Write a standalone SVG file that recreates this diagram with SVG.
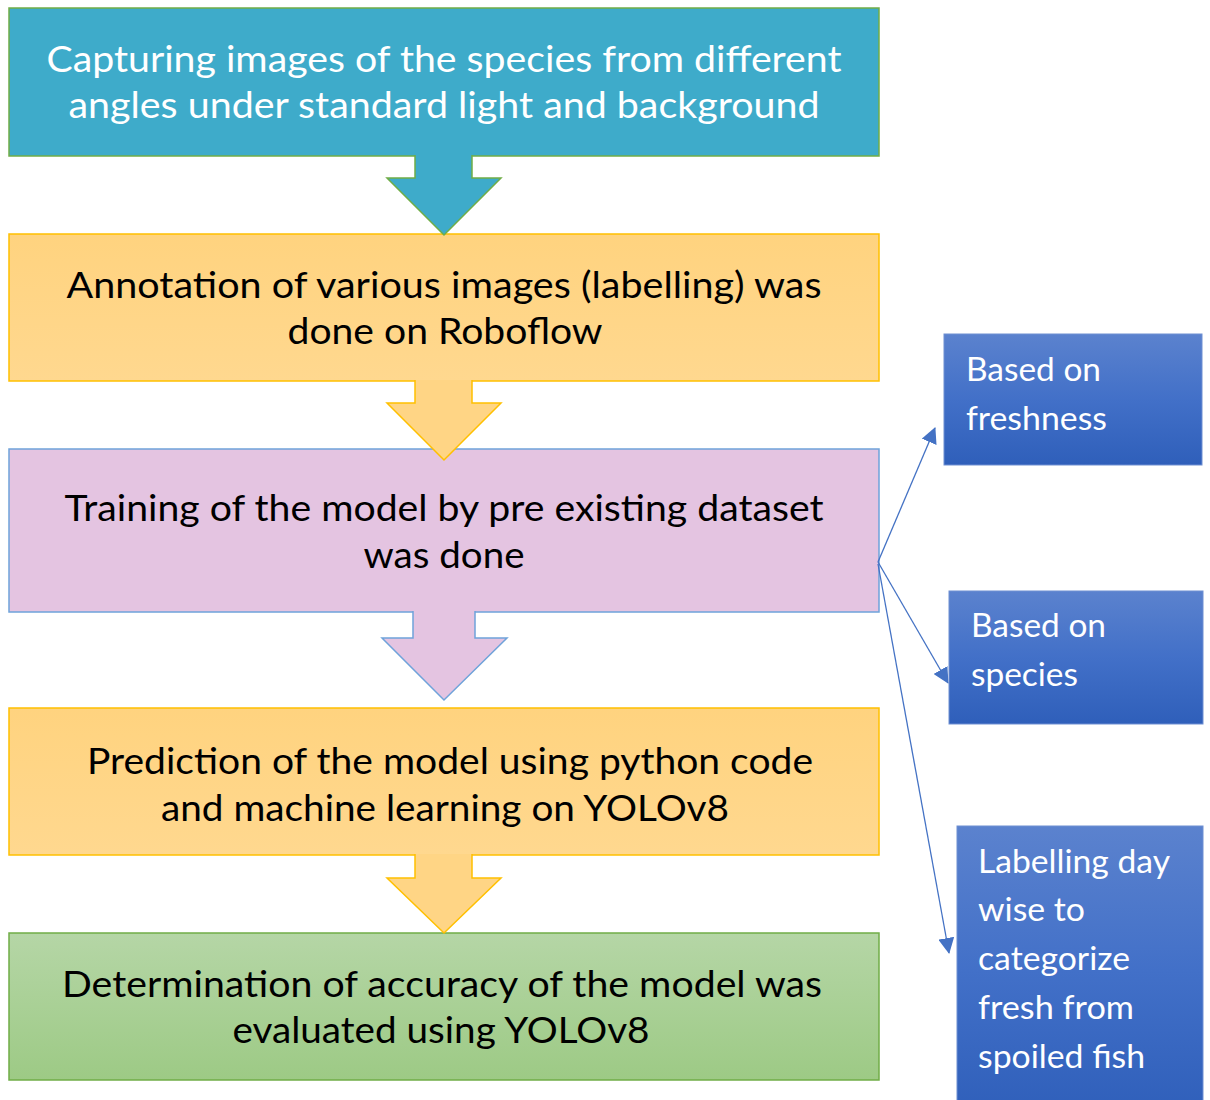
<svg xmlns="http://www.w3.org/2000/svg" width="1210" height="1100" viewBox="0 0 1210 1100">
<defs>
<linearGradient id="gOr" x1="0" y1="0" x2="0" y2="1"><stop offset="0" stop-color="#FFD37F"/><stop offset="1" stop-color="#FFD88F"/></linearGradient>
<linearGradient id="gGr" x1="0" y1="0" x2="0" y2="1"><stop offset="0" stop-color="#B5D6A6"/><stop offset="1" stop-color="#9DCA85"/></linearGradient>
<linearGradient id="gBl" x1="0" y1="0" x2="0" y2="1"><stop offset="0" stop-color="#5B82CE"/><stop offset="0.5" stop-color="#4270C8"/><stop offset="1" stop-color="#2F5FBA"/></linearGradient>
<marker id="ah" markerUnits="userSpaceOnUse" markerWidth="16" markerHeight="16" viewBox="0 0 16 16" refX="15" refY="8" orient="auto"><path d="M0,0 L16,8 L0,16 Z" fill="#4472C4"/></marker>
<style>
.t{font-family:Lato,"Open Sans","Liberation Sans",sans-serif;font-size:37px;text-anchor:middle;fill:#000}
.w{fill:#fff}
.r{font-family:Lato,"Open Sans","Liberation Sans",sans-serif;font-size:32px;fill:#fff}
.bx{stroke-width:1.5}
.conn{stroke:#4472C4;stroke-width:1.3;fill:none;marker-end:url(#ah)}
</style>
</defs>
<g id="box1"><rect class="bx" x="9" y="8" width="870" height="148" fill="#3EABCA" stroke="#70AD47"/>
<text class="t w" x="444" y="72" textLength="795" lengthAdjust="spacingAndGlyphs">Capturing images of the species from different</text>
<text class="t w" x="444" y="118" textLength="751" lengthAdjust="spacingAndGlyphs">angles under standard light and background</text></g>
<g id="box2"><rect class="bx" x="9" y="234" width="870" height="147" fill="url(#gOr)" stroke="#FFC000"/>
<text class="t" x="444" y="298" textLength="755" lengthAdjust="spacingAndGlyphs">Annotation of various images (labelling) was</text>
<text class="t" x="445" y="344" textLength="315" lengthAdjust="spacingAndGlyphs">done on Roboflow</text></g>
<g id="box3"><rect class="bx" x="9" y="449" width="870" height="163" fill="#E4C4E1" stroke="#6FA3DA"/>
<text class="t" x="444" y="521" textLength="759" lengthAdjust="spacingAndGlyphs">Training of the model by pre existing dataset</text>
<text class="t" x="444" y="568" textLength="161" lengthAdjust="spacingAndGlyphs">was done</text></g>
<g id="box4"><rect class="bx" x="9" y="708" width="870" height="147" fill="url(#gOr)" stroke="#FFC000"/>
<text class="t" x="450" y="774" textLength="726" lengthAdjust="spacingAndGlyphs">Prediction of the model using python code</text>
<text class="t" x="445" y="821" textLength="568" lengthAdjust="spacingAndGlyphs">and machine learning on YOLOv8</text></g>
<g id="box5"><rect class="bx" x="9" y="933" width="870" height="147" fill="url(#gGr)" stroke="#70AD47"/>
<text class="t" x="442" y="997" textLength="760" lengthAdjust="spacingAndGlyphs">Determination of accuracy of the model was</text>
<text class="t" x="441" y="1043" textLength="417" lengthAdjust="spacingAndGlyphs">evaluated using YOLOv8</text></g>
<g id="arrows">
<path d="M415,155 L415,178 L387,178 L444,235 L501,178 L472,178 L472,155" fill="#3EABCA" stroke="#70AD47" stroke-width="1.5"/>
<path d="M415,380 L415,403 L387,403 L444,460 L501,403 L472,403 L472,380" fill="#FFD585" stroke="#FFC000" stroke-width="1.5"/>
<path d="M413,611 L413,638 L382,638 L444,700 L507,638 L475,638 L475,611" fill="#E4C4E1" stroke="#6FA3DA" stroke-width="1.5"/>
<path d="M415,854 L415,878 L387,878 L444,933 L501,878 L472,878 L472,854" fill="#FFD585" stroke="#FFC000" stroke-width="1.5"/>
</g>
<g id="connectors">
<line class="conn" x1="878" y1="562" x2="935" y2="428"/>
<line class="conn" x1="878" y1="562" x2="948" y2="683"/>
<line class="conn" x1="878" y1="564" x2="949" y2="953"/>
</g>
<g id="rb1"><rect x="944" y="334" width="258" height="131" fill="url(#gBl)" stroke="#6F8FD2" stroke-width="1"/>
<text class="r" x="966" y="381" textLength="135" lengthAdjust="spacingAndGlyphs">Based on</text>
<text class="r" x="966" y="430" textLength="141" lengthAdjust="spacingAndGlyphs">freshness</text></g>
<g id="rb2"><rect x="949" y="591" width="254" height="133" fill="url(#gBl)" stroke="#6F8FD2" stroke-width="1"/>
<text class="r" x="971" y="637" textLength="135" lengthAdjust="spacingAndGlyphs">Based on</text>
<text class="r" x="971" y="686" textLength="107" lengthAdjust="spacingAndGlyphs">species</text></g>
<g id="rb3"><rect x="957" y="826" width="246" height="290" fill="url(#gBl)" stroke="#6F8FD2" stroke-width="1"/>
<text class="r" x="978" y="873" textLength="192" lengthAdjust="spacingAndGlyphs">Labelling day</text>
<text class="r" x="978" y="921" textLength="107" lengthAdjust="spacingAndGlyphs">wise to</text>
<text class="r" x="978" y="970" textLength="152" lengthAdjust="spacingAndGlyphs">categorize</text>
<text class="r" x="978" y="1019" textLength="156" lengthAdjust="spacingAndGlyphs">fresh from</text>
<text class="r" x="978" y="1068" textLength="167" lengthAdjust="spacingAndGlyphs">spoiled fish</text></g>
</svg>
